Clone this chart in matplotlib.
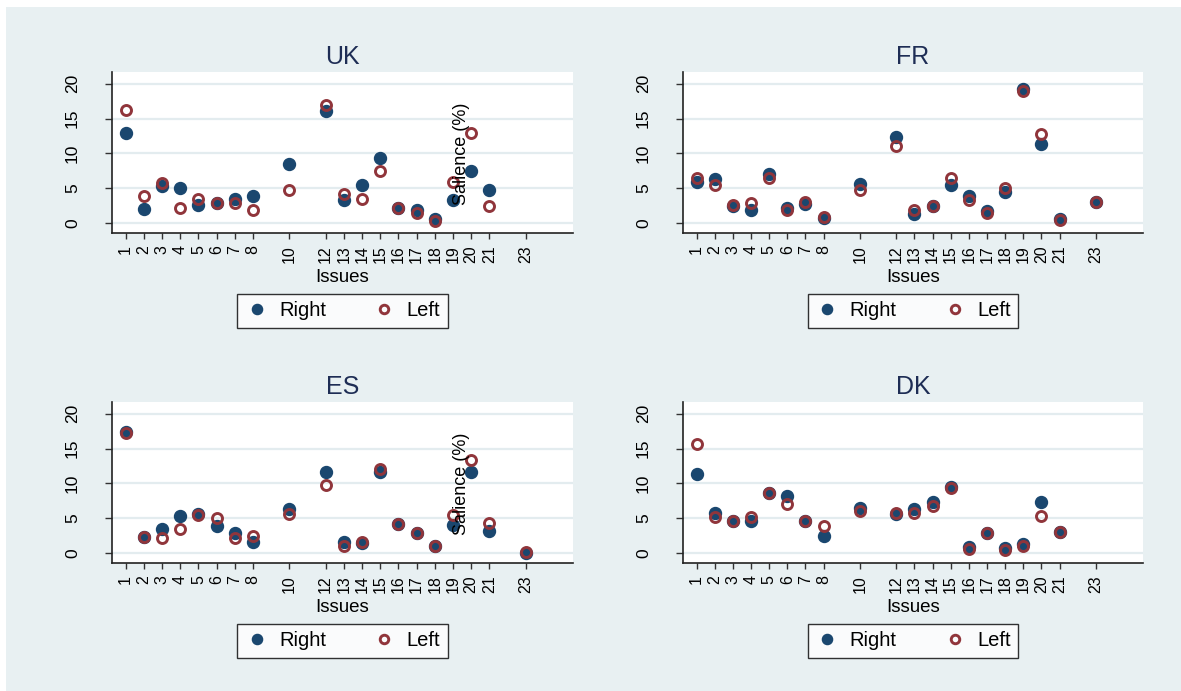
import matplotlib.pyplot as plt
from matplotlib.patches import Rectangle
import numpy as np

plt.rcParams['font.family'] = ['Liberation Sans', 'DejaVu Sans']

issues = [1, 2, 3, 4, 5, 6, 7, 8, 10, 12, 13, 14, 15, 16, 17, 18, 19, 20, 21, 23]

# salience (%) per issue, nan = not present
uk_right = [12.9, 2.0, 5.3, 5.0, 2.55, 2.8, 3.4, 3.9, 8.4, 16.1, 3.3, 5.4, 9.4, 2.2, 1.8, 0.5, 3.3, 7.5, 4.7, np.nan]
uk_left = [16.2, 3.8, 5.7, 2.2, 3.5, 2.9, 2.8, 1.8, 4.8, 16.9, 4.2, 3.4, 7.5, 2.2, 1.45, 0.3, 5.9, 12.9, 2.5, np.nan]

fr_right = [5.9, 6.3, 2.5, 1.8, 7.1, 2.1, 2.65, 0.7, 5.6, 12.4, 1.35, 2.45, 5.45, 3.8, 1.75, 4.5, 19.2, 11.3, 0.6, 2.95]
fr_left = [6.5, 5.4, 2.55, 2.9, 6.5, 1.9, 3.0, 0.8, 4.7, 11.0, 1.9, 2.45, 6.5, 3.3, 1.45, 5.05, 18.9, 12.8, 0.4, 3.0]

es_right = [17.45, 2.35, 3.4, 5.3, 5.6, 3.8, 2.9, 1.55, 6.25, 11.7, 1.55, 1.4, 11.6, 4.2, 2.8, 0.95, 4.0, 11.6, 3.2, 0.0]
es_left = [17.2, 2.35, 2.15, 3.4, 5.5, 4.95, 2.15, 2.45, 5.6, 9.75, 0.95, 1.55, 12.1, 4.2, 2.8, 1.05, 5.45, 13.4, 4.3, 0.1]

dk_right = [11.3, 5.8, 4.6, 4.6, 8.65, 8.15, 4.6, 2.4, 6.45, 5.6, 6.3, 7.25, 9.5, 0.9, 2.8, 0.65, 1.3, 7.25, 3.05, np.nan]
dk_left = [15.6, 5.2, 4.55, 5.2, 8.6, 7.1, 4.55, 3.85, 6.05, 5.8, 5.8, 6.7, 9.3, 0.6, 2.8, 0.35, 0.95, 5.35, 3.0, np.nan]

panels = [
    ('UK', uk_right, uk_left, True),
    ('FR', fr_right, fr_left, False),
    ('ES', es_right, es_left, True),
    ('DK', dk_right, dk_left, False),
]

W, H = 1181, 691
bg = '#E8F0F2'
navy = '#1A476F'
maroon = '#90353B'
gridc = '#E3ECEF'

fig = plt.figure(figsize=(W / 100, H / 100), dpi=100)
fig.patch.set_facecolor('white')
fig.patches.append(Rectangle((6 / W, 0), 1, 1 - 7 / H, transform=fig.transFigure,
                             facecolor=bg, edgecolor='none', zorder=-10))

# axes boxes in pixels: left, top, right, bottom
boxes = [(112, 72, 573, 233), (683, 72, 1143, 233),
         (112, 402, 573, 563), (683, 402, 1143, 563)]

for (name, right, left, ytitle), (x0, y0, x1, y1) in zip(panels, boxes):
    ax = fig.add_axes([x0 / W, 1 - y1 / H, (x1 - x0) / W, (y1 - y0) / H])
    ax.set_facecolor('white')
    ax.set_xlim(0.25, 25.6)
    ax.set_ylim(-1.45, 21.7)
    for y in [0, 5, 10, 15, 20]:
        ax.axhline(y, color=gridc, lw=1.6, zorder=1)
    ax.plot(issues, right, 'o', ms=8.6, color=navy, mec=navy, zorder=3, label='Right')
    ax.plot(issues, left, 'o', ms=7.2, mfc='none', mec=maroon, mew=2.1, zorder=4, label='Left')

    ax.set_xticks(issues)
    ax.set_xticklabels([str(i) for i in issues], rotation=90, fontsize=11.5)
    ax.set_yticks([0, 5, 10, 15, 20])
    ax.set_yticklabels(['0', '5', '10', '15', '20'], rotation=90, va='center', fontsize=12.5)
    ax.tick_params(axis='x', length=4, width=1, color='#333333', pad=5)
    ax.tick_params(axis='y', length=5, width=1, color='#333333', pad=18)
    for s in ['top', 'right']:
        ax.spines[s].set_visible(False)
    for s in ['left', 'bottom']:
        ax.spines[s].set_color('#222222')
        ax.spines[s].set_linewidth(1.2)

    ax.set_xlabel('Issues', fontsize=13.5, labelpad=4)
    ax.set_title(name, fontsize=18, color='#1E2D55', pad=6)
    if ytitle:
        ax.text(19.45, 10, 'Salience (%)', rotation=90, ha='center', va='center',
                fontsize=13, zorder=5)

    # legend box sits 78 px under the plot area
    leg = ax.legend(loc='center', bbox_to_anchor=(0.5, -78 / (y1 - y0)),
                    ncol=2, fontsize=14.5, frameon=True, fancybox=False,
                    handletextpad=0.5, columnspacing=2.3, borderpad=0.38,
                    handlelength=1.2, markerscale=0.85)
    leg.get_frame().set_edgecolor('black')
    leg.get_frame().set_linewidth(1.0)

fig.savefig('out.png', dpi=100, facecolor=fig.get_facecolor())
